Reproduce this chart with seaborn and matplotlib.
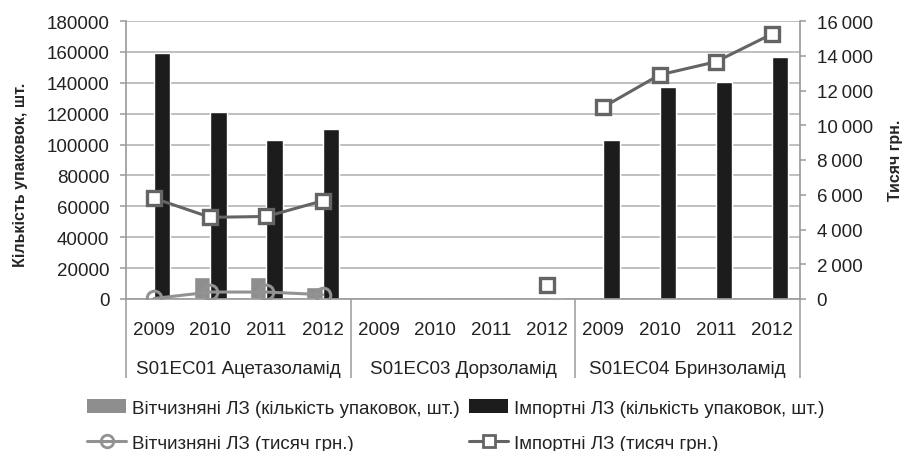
import numpy as np
import pandas as pd
import matplotlib
matplotlib.use("Agg")
import matplotlib.pyplot as plt
import seaborn as sns
from matplotlib.ticker import FuncFormatter, MultipleLocator
from matplotlib.lines import Line2D
from matplotlib.patches import Patch

groups = ["S01EC01 Ацетазоламід", "S01EC03 Дорзоламід", "S01EC04 Бринзоламід"]
years = ["2009", "2010", "2011", "2012"]

# packs, pcs (left axis, bars)
dom_packs = [0, 14000, 14000, 8000, 0, 0, 0, 0, 0, 0, 0, 0]
imp_packs = [159000, 121000, 103000, 110000, 0, 0, 0, 700, 103000, 137000, 140500, 156500]
# thousand UAH (right axis, lines)
dom_uah = [30, 400, 400, 250, np.nan, np.nan, np.nan, np.nan, np.nan, np.nan, np.nan, np.nan]
imp_uah = [5800, 4700, 4750, 5650, np.nan, np.nan, np.nan, 800, 11050, 12900, 13650, 15250]

lab_dom_bar = "Вітчизняні ЛЗ (кількість упаковок, шт.)"
lab_imp_bar = "Імпортні ЛЗ (кількість упаковок, шт.)"
lab_dom_line = "Вітчизняні ЛЗ (тисяч грн.)"
lab_imp_line = "Імпортні ЛЗ (тисяч грн.)"

GRAY_BAR = "#8e8e8e"
BLACK_BAR = "#1c1c1c"
DOM_LINE = "#929292"
IMP_LINE = "#646464"
AXIS_C = "#9a9a9a"

sns.set_theme(style="white")
plt.rcParams["font.family"] = ["Liberation Sans", "DejaVu Sans"]
plt.rcParams["text.color"] = "#222222"
plt.rcParams["xtick.color"] = "#222222"
plt.rcParams["ytick.color"] = "#222222"

slots = [f"{g}|{y}" for g in groups for y in years]
grp_of = [g for g in groups for y in years]
pos = np.arange(len(slots))

bars = pd.DataFrame({
    "slot": slots * 2,
    "series": [lab_dom_bar] * 12 + [lab_imp_bar] * 12,
    "value": dom_packs + imp_packs,
})
lines = pd.DataFrame({
    "pos": np.concatenate([pos, pos]),
    "group": grp_of * 2,
    "series": [lab_dom_line] * 12 + [lab_imp_line] * 12,
    "value": dom_uah + imp_uah,
})

fig = plt.figure(figsize=(9.06, 4.52), dpi=100)
ax = fig.add_axes([126 / 906, 1 - 300 / 452, 674 / 906, 278 / 452])

sns.barplot(data=bars, x="slot", y="value", hue="series", order=slots,
            hue_order=[lab_dom_bar, lab_imp_bar],
            palette=[GRAY_BAR, BLACK_BAR], width=0.58, saturation=1,
            legend=False, ax=ax)

ax.set_xlim(-0.5, 11.5)
ax.set_ylim(0, 180000)
ax.yaxis.set_major_locator(MultipleLocator(20000))
ax.grid(axis="y", color="#b4b4b4", linewidth=1.2)
ax.set_axisbelow(True)
for s in ["top", "right"]:
    ax.spines[s].set_visible(False)
for s in ["left", "bottom"]:
    ax.spines[s].set_color(AXIS_C)
    ax.spines[s].set_linewidth(1.2)

ax.set_xticks(pos)
ax.set_xticklabels(years * 3)
ax.set_xticks(np.arange(-0.5, 12, 1), minor=True)
ax.tick_params(axis="x", which="major", length=0, pad=16, labelsize=13.5)
ax.tick_params(axis="x", which="minor", length=28, width=1.1, color=AXIS_C)
ax.tick_params(axis="y", length=4, width=1.1, color=AXIS_C, labelsize=13.5, pad=8)
ax.set_xlabel("")
ax.set_ylabel("Кількість упаковок, шт.", fontsize=11.5, fontweight="bold")
ax.yaxis.set_label_coords(-0.145, 0.45)

sec = ax.secondary_xaxis("bottom")
sec.spines["bottom"].set_visible(False)
sec.set_xticks([1.5, 5.5, 9.5])
sec.set_xticklabels(groups)
sec.set_xticks([-0.5, 3.5, 7.5, 11.5], minor=True)
sec.tick_params(axis="x", which="major", length=0, pad=44, labelsize=13.5)
sec.tick_params(axis="x", which="minor", length=57, width=1.1, color=AXIS_C)

ax2 = ax.twinx()
sns.lineplot(data=lines[lines["series"] == lab_dom_line], x="pos", y="value",
             units="group", estimator=None, color=DOM_LINE, linewidth=2.2,
             marker="o", markersize=10.5, markerfacecolor="none",
             markeredgecolor=DOM_LINE, markeredgewidth=2.2, ax=ax2)
sns.lineplot(data=lines[lines["series"] == lab_imp_line], x="pos", y="value",
             units="group", estimator=None, color=IMP_LINE, linewidth=2.2,
             marker="s", markersize=10, markerfacecolor="white",
             markeredgecolor=IMP_LINE, markeredgewidth=2.4, ax=ax2)
ax2.set_xlim(-0.5, 11.5)
ax2.set_ylim(0, 16000)
ax2.yaxis.set_major_locator(MultipleLocator(2000))
ax2.yaxis.set_major_formatter(FuncFormatter(lambda v, p: f"{int(v):,}".replace(",", "\u2009")))
ax2.grid(False)
for s in ["top", "left", "bottom"]:
    ax2.spines[s].set_visible(False)
ax2.spines["right"].set_color(AXIS_C)
ax2.spines["right"].set_linewidth(1.2)
ax2.tick_params(axis="y", length=4, width=1.1, color=AXIS_C, labelsize=13.5, pad=8)
ax2.set_xlabel("")
ax2.set_ylabel("Тисяч грн.", fontsize=11.5, fontweight="bold")
ax2.yaxis.set_label_coords(1.13, 0.504)

handles = [
    Patch(facecolor=GRAY_BAR, edgecolor="none"),
    Line2D([], [], color=DOM_LINE, linewidth=2.2, marker="o", markersize=9,
           markerfacecolor="none", markeredgecolor=DOM_LINE, markeredgewidth=2),
    Patch(facecolor=BLACK_BAR, edgecolor="none"),
    Line2D([], [], color=IMP_LINE, linewidth=2.2, marker="s", markersize=9,
           markerfacecolor="white", markeredgecolor=IMP_LINE, markeredgewidth=2),
]
labels = [lab_dom_bar, lab_dom_line, lab_imp_bar, lab_imp_line]
fig.legend(handles, labels, ncol=2, loc="center", bbox_to_anchor=(0.503, 0.056),
           frameon=False, fontsize=13.5, handlelength=2.1, handleheight=0.75,
           handletextpad=0.3, columnspacing=0.5, labelspacing=0.95)

fig.savefig("out.png", dpi=100)
